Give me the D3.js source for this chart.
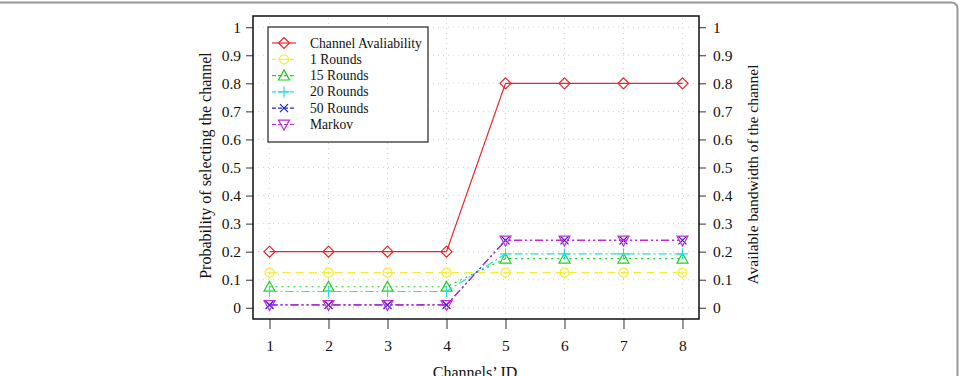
<!DOCTYPE html>
<html>
<head>
<meta charset="utf-8">
<script src="https://cdn.jsdelivr.net/npm/d3@7"></script>
<style>
  body { margin: 0; background: #fff; }
  svg { display: block; font-family: "Liberation Serif", "DejaVu Serif", serif; }
</style>
</head>
<body>
<svg id="chart" width="964" height="376"></svg>
<script>
const channels = [1, 2, 3, 4, 5, 6, 7, 8];
const channelAvailability = [0.2, 0.2, 0.2, 0.2, 0.8, 0.8, 0.8, 0.8];
const rounds1 = [0.125, 0.125, 0.125, 0.125, 0.125, 0.125, 0.125, 0.125];
const rounds15 = [0.075, 0.075, 0.075, 0.075, 0.175, 0.175, 0.175, 0.175];
const rounds20 = [0.058, 0.058, 0.058, 0.058, 0.192, 0.192, 0.192, 0.192];
const rounds50 = [0.01, 0.01, 0.01, 0.01, 0.24, 0.24, 0.24, 0.24];
const markov = [0.01, 0.01, 0.01, 0.01, 0.24, 0.24, 0.24, 0.24];
const yTicks = [0, 0.1, 0.2, 0.3, 0.4, 0.5, 0.6, 0.7, 0.8, 0.9, 1];

const series = [
  { name: "Channel Avaliability", values: channelAvailability, color: "#e8262a", dash: null, marker: "diamond" },
  { name: "1 Rounds", values: rounds1, color: "#f4ec3a", dash: "8,5", marker: "circle" },
  { name: "15 Rounds", values: rounds15, color: "#22d022", dash: "2,4", marker: "triangle" },
  { name: "20 Rounds", values: rounds20, color: "#22dede", dash: "8,3,2,3", marker: "plus" },
  { name: "50 Rounds", values: rounds50, color: "#2020c8", dash: "8,3,2,3,2,3", marker: "cross" },
  { name: "Markov", values: markov, color: "#c42ad8", dash: "8,3,2,3,2,3", marker: "triangleDown" },
];

const svg = d3.select("#chart");
const margin = { left: 253, right: 265, top: 16, bottom: 57 };
const W = 964, H = 376;

// outer frame
svg.append("path")
  .attr("d", `M0,2.5 H951 Q957.5,2.5 957.5,9 V376`)
  .attr("fill", "none").attr("stroke", "#999").attr("stroke-width", 2);

const x = d3.scaleLinear().domain([0.72, 8.28]).range([margin.left, W - margin.right]);
const y = d3.scaleLinear().domain([-0.04, 1.04]).range([H - margin.bottom, margin.top]);

// grid
const grid = svg.append("g").attr("stroke", "#c8c8c8").attr("stroke-width", 0.8).attr("stroke-dasharray", "1,4");
grid.selectAll("line.h").data(yTicks).join("line")
  .attr("x1", x.range()[0]).attr("x2", x.range()[1])
  .attr("y1", (d) => y(d)).attr("y2", (d) => y(d));
grid.selectAll("line.v").data(channels).join("line")
  .attr("class", "v")
  .attr("x1", (d) => x(d)).attr("x2", (d) => x(d))
  .attr("y1", y.range()[0]).attr("y2", y.range()[1]);

// axes
const fmt = (d) => (d === 0 || d === 1 ? String(d) : d.toFixed(1));
const xAxis = svg.append("g").attr("transform", `translate(0,${y.range()[0]})`)
  .call(d3.axisBottom(x).tickValues(channels).tickSize(10).tickPadding(11).tickSizeOuter(0));
const yAxis = svg.append("g").attr("transform", `translate(${x.range()[0]},0)`)
  .call(d3.axisLeft(y).tickValues(yTicks).tickFormat(fmt).tickSize(7).tickPadding(5).tickSizeOuter(0));
const yAxisR = svg.append("g").attr("transform", `translate(${x.range()[1]},0)`)
  .call(d3.axisRight(y).tickValues(yTicks).tickFormat(fmt).tickSize(7).tickPadding(7).tickSizeOuter(0));
[xAxis, yAxis, yAxisR].forEach((g) => {
  g.select(".domain").remove();
  g.selectAll("text").attr("font-family", "Liberation Serif, serif").attr("font-size", 15.5).attr("fill", "#111");
  g.selectAll("line").attr("stroke", "#333");
});

// box
svg.append("rect")
  .attr("x", x.range()[0]).attr("y", y.range()[1])
  .attr("width", x.range()[1] - x.range()[0]).attr("height", y.range()[0] - y.range()[1])
  .attr("fill", "none").attr("stroke", "#111").attr("stroke-width", 1.5);

// axis titles
svg.append("text")
  .attr("transform", `translate(211,${(y.range()[0] + y.range()[1]) / 2 - 2}) rotate(-90)`)
  .attr("text-anchor", "middle").attr("font-size", 16).attr("fill", "#111")
  .text("Probability of selecting the channel");
svg.append("text")
  .attr("transform", `translate(758,${(y.range()[0] + y.range()[1]) / 2 + 7}) rotate(-90)`)
  .attr("text-anchor", "middle").attr("font-size", 15.5).attr("fill", "#111")
  .text("Available bandwidth of the channel");
svg.append("text")
  .attr("x", 475).attr("y", 378)
  .attr("text-anchor", "middle").attr("font-size", 16).attr("fill", "#111")
  .text("Channels\u2019 ID");

function drawMarker(g, type, color) {
  const s = 5.5;
  const p = g.append("path").attr("fill", "none").attr("stroke", color).attr("stroke-width", 1.2);
  if (type === "diamond") p.attr("d", `M0,${-s} L${s},0 L0,${s} L${-s},0 Z`);
  else if (type === "circle") p.attr("d", d3.symbol(d3.symbolCircle, 64)());
  else if (type === "triangle") p.attr("d", `M0,${-s} L${s},${s * 0.8} L${-s},${s * 0.8} Z`);
  else if (type === "triangleDown") p.attr("d", `M0,${s} L${s},${-s * 0.8} L${-s},${-s * 0.8} Z`);
  else if (type === "plus") p.attr("d", `M${-s},0 H${s} M0,${-s} V${s}`);
  else if (type === "cross") p.attr("d", `M${-4},${-4} L4,4 M4,${-4} L${-4},4`);
  if (type === "circle") g.append("line").attr("x1", -3).attr("x2", 3).attr("stroke", color).attr("stroke-width", 1);
}

const line = d3.line().x((d, i) => x(channels[i])).y((d) => y(d));
series.forEach((s) => {
  svg.append("path").datum(s.values)
    .attr("d", line).attr("fill", "none")
    .attr("stroke", s.color).attr("stroke-width", 1.2)
    .attr("stroke-dasharray", s.dash);
  s.values.forEach((v, i) => {
    const g = svg.append("g").attr("transform", `translate(${x(channels[i])},${y(v)})`);
    drawMarker(g, s.marker, s.color);
  });
});

// legend
const legend = svg.append("g").attr("transform", "translate(268,27)");
legend.append("rect").attr("width", 160).attr("height", 115)
  .attr("fill", "#fff").attr("stroke", "#222").attr("stroke-width", 1.2);
series.forEach((s, i) => {
  const ly = 16 + i * 16.3;
  legend.append("line").attr("x1", 4).attr("x2", 28).attr("y1", ly).attr("y2", ly)
    .attr("stroke", s.color).attr("stroke-width", 1.2).attr("stroke-dasharray", s.dash ? "4,2" : null);
  drawMarker(legend.append("g").attr("transform", `translate(16,${ly})`), s.marker, s.color);
  legend.append("text").attr("x", 42).attr("y", ly + 4.5)
    .attr("font-size", 13.6).attr("fill", "#111").text(s.name);
});
</script>
</body>
</html>
